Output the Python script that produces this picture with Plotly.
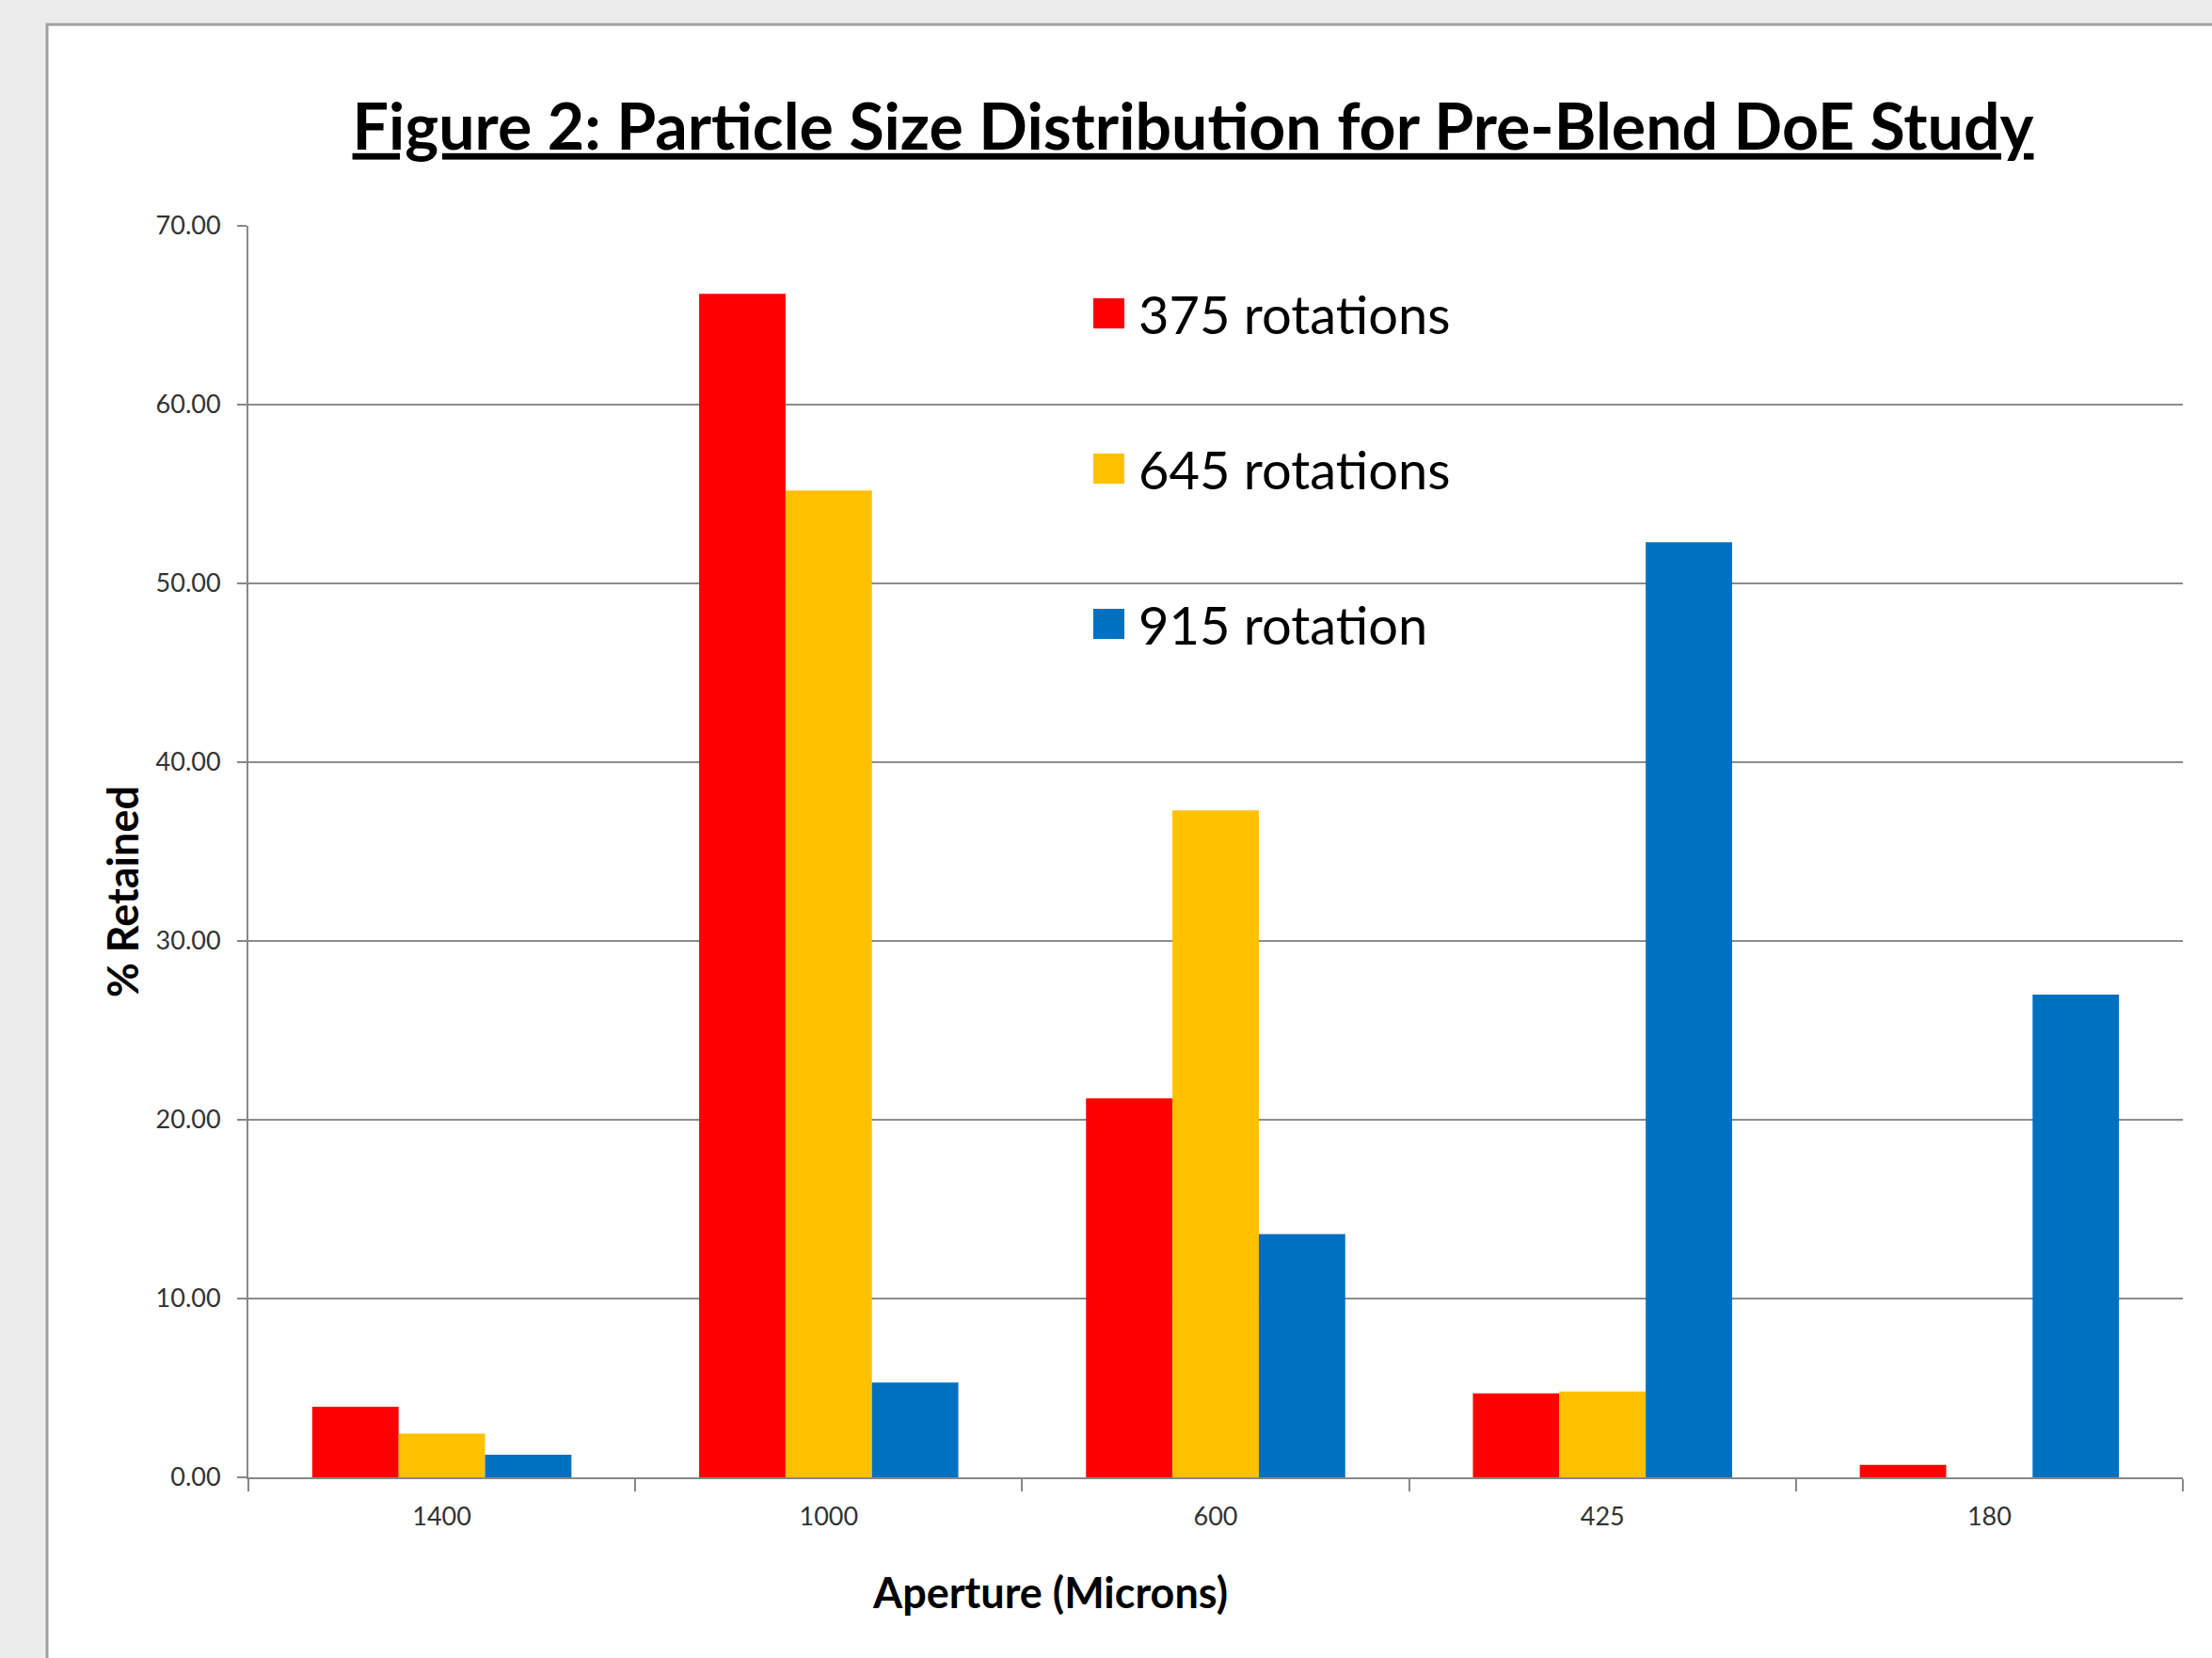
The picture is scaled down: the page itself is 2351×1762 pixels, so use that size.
import plotly.graph_objects as go

# Sieve apertures (microns) and % retained per blending run
apertures = ["1400", "1000", "600", "425", "180"]
series_names = ["375 rotations", "645 rotations", "915 rotation"]
retained_375 = [3.95, 66.2, 21.2, 4.7, 0.7]
retained_645 = [2.45, 55.2, 37.3, 4.8, 0.0]
retained_915 = [1.26, 5.3, 13.6, 52.3, 27.0]
series_colors = ["#FF0000", "#FFC000", "#0070C0"]
y_ticks = [0, 10, 20, 30, 40, 50, 60, 70]

W, H = 2351, 1762
ML, MR, MT, MB = 264, 31, 240, 192
FONT = "Lato"


def px_x(px):
    return (px - ML) / (W - ML - MR)


def px_y(py):
    return 1 - (py - MT) / (H - MT - MB)


fig = go.Figure()
for name, vals, col in zip(series_names, [retained_375, retained_645, retained_915], series_colors):
    fig.add_trace(go.Bar(x=apertures, y=vals, name=name, marker=dict(color=col, line=dict(width=0)),
                         showlegend=False))

# white chart panel with grey border on the grey page
fig.add_shape(type="rect", xref="paper", yref="paper",
              x0=px_x(50), y0=px_y(H + 20), x1=px_x(W + 20), y1=px_y(26),
              fillcolor="white", line=dict(color="#A0A0A0", width=3), layer="below")

# legend: coloured squares with labels
for i, (name, col) in enumerate(zip(series_names, series_colors)):
    cy = 333 + 165 * i
    fig.add_shape(type="rect", xref="paper", yref="paper",
                  x0=px_x(1162), x1=px_x(1195), y0=px_y(cy + 16), y1=px_y(cy - 16),
                  fillcolor=col, line=dict(width=0))
    fig.add_annotation(xref="paper", yref="paper", x=px_x(1208), y=px_y(cy),
                       xanchor="left", yanchor="middle", text=name, showarrow=False,
                       font=dict(family=FONT, size=56, color="black"))

# axis titles
fig.add_annotation(xref="paper", yref="paper", x=px_x(1116), y=px_y(1692),
                   xanchor="center", yanchor="middle", text="<b>Aperture (Microns)</b>",
                   showarrow=False, font=dict(family=FONT, size=45, color="black"))
fig.add_annotation(xref="paper", yref="paper", x=px_x(130), y=px_y(948), textangle=-90,
                   xanchor="center", yanchor="middle", text="<b>% Retained</b>",
                   showarrow=False, font=dict(family=FONT, size=45, color="black"))

fig.update_layout(
    width=W, height=H,
    margin=dict(l=ML, r=MR, t=MT, b=MB),
    paper_bgcolor="#ECECEC",
    plot_bgcolor="white",
    barmode="group", bargap=0.33, bargroupgap=0,
    title=dict(text="<b><u>Figure 2: Particle Size Distribution for Pre-Blend DoE Study</u></b>",
               x=1268 / W, xanchor="center", y=1 - 135 / H, yanchor="middle",
               font=dict(family=FONT, size=68, color="black")),
    font=dict(family=FONT, color="#333333"),
)

fig.update_xaxes(
    type="category", showline=True, linecolor="#888888", linewidth=2,
    ticks="outside", tickson="boundaries", ticklen=13, tickwidth=2, tickcolor="#888888",
    tickfont=dict(family=FONT, size=27, color="#333333"), ticklabelstandoff=17,
    showgrid=False,
)
fig.update_yaxes(
    range=[0, 70], tickvals=y_ticks, tickformat=".2f",
    showline=True, linecolor="#888888", linewidth=2,
    ticks="outside", ticklen=10, tickwidth=2, tickcolor="#888888",
    showgrid=True, gridcolor="#8C8C8C", gridwidth=2,
    tickfont=dict(family=FONT, size=27, color="#333333"), ticklabelstandoff=12,
    zeroline=False,
)

fig.write_html("out.html")
